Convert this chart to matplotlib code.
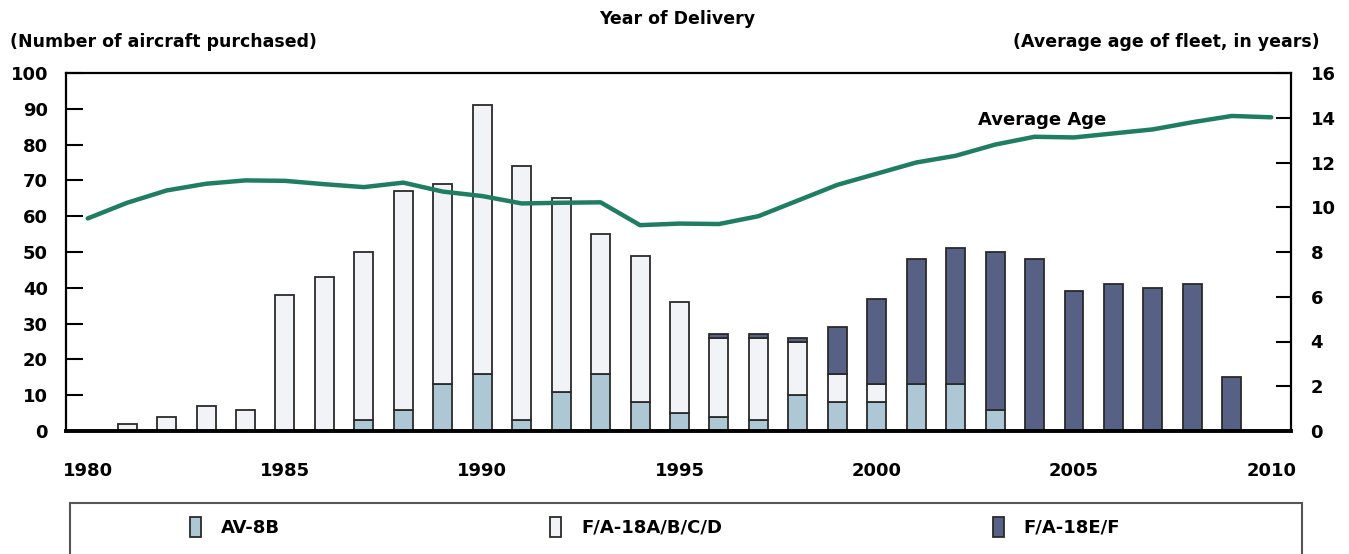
import numpy as np
import matplotlib
matplotlib.use('Agg')
import matplotlib.pyplot as plt
from matplotlib.patches import Rectangle

plt.rcParams['font.family'] = ['DejaVu Sans']
plt.rcParams['font.weight'] = 'bold'

# Bar data, years 1980-2009
bar_years = list(range(1980, 2010))
av8b = [0, 0, 0, 0, 0, 0, 0, 3, 6, 13, 16, 3, 11, 16, 8, 5, 4, 3, 10, 8,
        8, 13, 13, 6, 0, 0, 0, 0, 0, 0]
fa18_abcd = [0, 2, 4, 7, 6, 38, 43, 47, 61, 56, 75, 71, 54, 39, 41, 31, 22, 23, 15, 8,
             5, 0, 0, 0, 0, 0, 0, 0, 0, 0]
fa18_ef = [0, 0, 0, 0, 0, 0, 0, 0, 0, 0, 0, 0, 0, 0, 0, 0, 1, 1, 1, 13,
           24, 35, 38, 44, 48, 39, 41, 40, 41, 15]

# Average age line, years 1980-2010
age_years = list(range(1980, 2011))
avg_age = [9.5, 10.2, 10.75, 11.05, 11.2, 11.18, 11.03, 10.9, 11.1, 10.7,
           10.5, 10.17, 10.2, 10.22, 9.2, 9.27, 9.25, 9.6, 10.3, 11.0,
           11.5, 12.0, 12.3, 12.8, 13.15, 13.12, 13.3, 13.48, 13.8, 14.08, 14.02]

x_labels = ['1980', '1985', '1990', '1995', '2000', '2005', '2010']

c_av = '#adc7d5'
c_abcd = '#f2f3f7'
c_ef = '#576185'
c_line = '#1f7d62'
edge = '#2a2a2a'

fig = plt.figure(figsize=(13.49, 5.54), dpi=100)
ax = fig.add_axes([66 / 1349, 1 - 431 / 554, (1291 - 66) / 1349, (431 - 73) / 554])

yrs = np.array(bar_years)
a = np.array(av8b)
b = np.array(fa18_abcd)
c = np.array(fa18_ef)
w = 0.48

# skip zero segments so no stray edge lines are drawn
m = a > 0
ax.bar(yrs[m], a[m], width=w, color=c_av, edgecolor=edge, linewidth=1.3, label='AV-8B', zorder=2)
m = b > 0
ax.bar(yrs[m], b[m], bottom=a[m], width=w, color=c_abcd, edgecolor=edge, linewidth=1.3,
       label='F/A-18A/B/C/D', zorder=2)
m = c > 0
ax.bar(yrs[m], c[m], bottom=(a + b)[m], width=w, color=c_ef, edgecolor=edge, linewidth=1.3,
       label='F/A-18E/F', zorder=2)

ax.set_xlim(1979.45, 2010.5)
ax.set_ylim(0, 100)
ax.set_yticks(range(0, 101, 10))
ax.set_xticks([int(s) for s in x_labels])
ax.set_xticklabels(x_labels)
ax.tick_params(axis='y', direction='in', length=12, width=1.5, pad=13, labelsize=13)
ax.tick_params(axis='x', length=0, pad=22, labelsize=13)
for s in ['left', 'right', 'top']:
    ax.spines[s].set_linewidth(1.6)
ax.spines['bottom'].set_linewidth(2.8)

ax2 = ax.twinx()
ax2.plot(age_years, avg_age, color=c_line, linewidth=3.2, solid_capstyle='round', zorder=3)
ax2.set_ylim(0, 16)
ax2.set_yticks(range(0, 17, 2))
ax2.tick_params(axis='y', direction='in', length=11, width=1.5, pad=14, labelsize=13)
for s in ax2.spines.values():
    s.set_visible(False)
ax2.text(2004.2, 13.9, 'Average Age', ha='center', va='center', fontsize=13, fontweight='bold')

fig.text(677 / 1349, 1 - 19 / 554, 'Year of Delivery', ha='center', va='center', fontsize=12.5, fontweight='bold')
fig.text(10 / 1349, 1 - 42 / 554, '(Number of aircraft purchased)', ha='left', va='center',
         fontsize=12.5, fontweight='bold')
fig.text(1320 / 1349, 1 - 42 / 554, '(Average age of fleet, in years)', ha='right', va='center',
         fontsize=12.5, fontweight='bold')

# legend box, cut off at the bottom of the figure
fig.patches.append(Rectangle((70 / 1349, -0.05), (1302 - 70) / 1349, 0.05 + 51 / 554,
                             transform=fig.transFigure, facecolor='white', edgecolor='#555555',
                             linewidth=1.5))
handles, labels = ax.get_legend_handles_labels()
fig.legend(handles, labels, loc='center', bbox_to_anchor=(655 / 1349, 1 - 527 / 554), ncol=3,
           frameon=False, fontsize=13, handlelength=0.6, handleheight=1.3, handletextpad=1.1,
           columnspacing=15)

fig.savefig('out.png', dpi=100)
